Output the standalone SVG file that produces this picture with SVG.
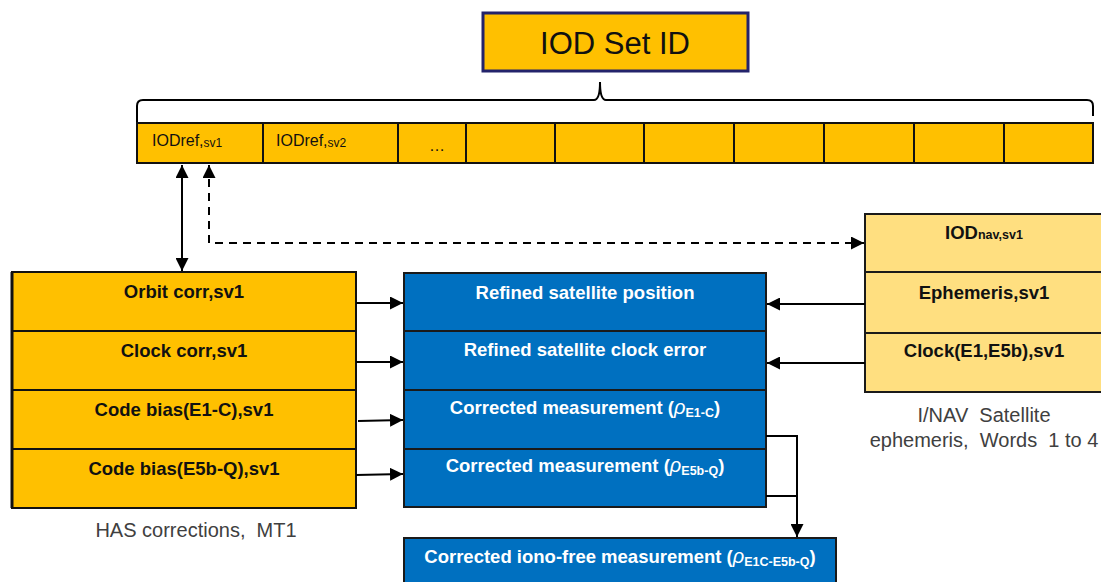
<svg xmlns="http://www.w3.org/2000/svg" width="1101" height="582" viewBox="0 0 1101 582">
<defs>
<style>
text{font-family:"Liberation Sans",Arial,sans-serif}
.cell{fill:#FFC000;stroke:#111;stroke-width:2}
.has{fill:#FFC000;stroke:#111;stroke-width:2}
.blue{fill:#0070C0;stroke:#1a1a1a;stroke-width:2}
.nav{fill:#FFDF80;stroke:#1a1a1a;stroke-width:2}
.bk{font-weight:bold;font-size:18.5px;fill:#111;text-anchor:middle}
.wt{font-weight:bold;font-size:18.5px;fill:#fff;text-anchor:middle}
.cap{font-size:20px;fill:#404040;text-anchor:middle}
.ref{font-size:16px;fill:#111}
.ln{fill:none;stroke:#000;stroke-width:2}
</style>
<marker id="ah" viewBox="0 0 10 10" refX="10" refY="5" markerWidth="6.5" markerHeight="6.5" orient="auto-start-reverse" markerUnits="strokeWidth">
<path d="M0,0 L10,5 L0,10 z" fill="#000"/>
</marker>
</defs>
<rect width="1101" height="582" fill="#fff"/>

<g id="iod-set-id">
<rect x="483" y="13" width="265" height="58" fill="#FFC000" stroke="#23236b" stroke-width="3"/>
<text x="615" y="54" font-size="31" fill="#111" text-anchor="middle">IOD Set ID</text>
</g>

<g id="brace">
<path class="ln" stroke-width="1.5" d="M137,122 V106 Q137,100 143,100 H594 Q600,100 600,82 Q600,100 606,100 H1087 Q1093,100 1093,106 V116"/>
</g>

<g id="iodref-row">
<rect class="cell" x="137" y="123" width="126" height="40"/>
<rect class="cell" x="263" y="123" width="135" height="40"/>
<rect class="cell" x="398" y="123" width="68" height="40"/>
<rect class="cell" x="466" y="123" width="89" height="40"/>
<rect class="cell" x="555" y="123" width="89" height="40"/>
<rect class="cell" x="644" y="123" width="90" height="40"/>
<rect class="cell" x="734" y="123" width="90" height="40"/>
<rect class="cell" x="824" y="123" width="90" height="40"/>
<rect class="cell" x="914" y="123" width="90" height="40"/>
<rect class="cell" x="1004" y="123" width="89" height="40"/>
<text class="ref" x="152" y="146">IODref,<tspan font-size="12" dy="1">sv1</tspan></text>
<text class="ref" x="276" y="146">IODref,<tspan font-size="12" dy="1">sv2</tspan></text>
<text class="ref" x="429" y="151" font-size="13" fill="#555">…</text>
</g>

<g id="has-corrections">
<rect class="has" x="12" y="272" width="344" height="59"/>
<rect class="has" x="12" y="331" width="344" height="59"/>
<rect class="has" x="12" y="390" width="344" height="59"/>
<rect class="has" x="12" y="449" width="344" height="59"/>
<line x1="12" y1="272" x2="12" y2="508" stroke="#111" stroke-width="3"/>
<text class="bk" x="184" y="298">Orbit corr,sv1</text>
<text class="bk" x="184" y="357">Clock corr,sv1</text>
<text class="bk" x="184" y="416">Code bias(E1-C),sv1</text>
<text class="bk" x="184" y="475">Code bias(E5b-Q),sv1</text>
<text class="cap" x="196" y="537" xml:space="preserve">HAS corrections,  MT1</text>
</g>

<g id="refined">
<rect class="blue" x="404" y="273" width="362" height="58"/>
<rect class="blue" x="404" y="331" width="362" height="59"/>
<rect class="blue" x="404" y="390" width="362" height="59"/>
<rect class="blue" x="404" y="449" width="362" height="58"/>
<text class="wt" x="585" y="299">Refined satellite position</text>
<text class="wt" x="585" y="356">Refined satellite clock error</text>
<text class="wt" x="585" y="414">Corrected measurement (<tspan font-style="italic" font-weight="normal" font-size="20">ρ</tspan><tspan font-size="12.5" dy="3">E1-C</tspan><tspan dy="-3">)</tspan></text>
<text class="wt" x="585" y="472">Corrected measurement (<tspan font-style="italic" font-weight="normal" font-size="20">ρ</tspan><tspan font-size="12.5" dy="3">E5b-Q</tspan><tspan dy="-3">)</tspan></text>
</g>

<g id="iono-free">
<rect class="blue" x="404" y="538" width="432" height="52"/>
<text class="wt" x="620" y="563">Corrected iono-free measurement (<tspan font-style="italic" font-weight="normal" font-size="20">ρ</tspan><tspan font-size="12.5" dy="3">E1C-E5b-Q</tspan><tspan dy="-3">)</tspan></text>
</g>

<g id="inav-ephemeris">
<rect class="nav" x="865" y="214" width="238" height="58"/>
<rect class="nav" x="865" y="272" width="238" height="61"/>
<rect class="nav" x="865" y="333" width="238" height="59"/>
<text class="bk" x="984" y="239">IOD<tspan font-size="12.5">nav,sv1</tspan></text>
<text class="bk" x="984" y="299">Ephemeris,sv1</text>
<text class="bk" x="984" y="357">Clock(E1,E5b),sv1</text>
<text class="cap" x="984" y="422" xml:space="preserve">I/NAV  Satellite</text>
<text class="cap" x="984" y="447" xml:space="preserve">ephemeris,  Words  1 to 4</text>
</g>

<g id="connectors">
<line class="ln" x1="182" y1="165" x2="182" y2="271" marker-start="url(#ah)" marker-end="url(#ah)"/>
<path class="ln" stroke-dasharray="8,6" d="M209,165 V243 H864" marker-start="url(#ah)" marker-end="url(#ah)"/>
<line class="ln" x1="356" y1="303" x2="403" y2="303" marker-end="url(#ah)"/>
<line class="ln" x1="356" y1="362" x2="403" y2="362" marker-end="url(#ah)"/>
<line class="ln" x1="358" y1="421" x2="403" y2="420" marker-end="url(#ah)"/>
<line class="ln" x1="356" y1="475" x2="403" y2="474" marker-end="url(#ah)"/>
<line class="ln" x1="865" y1="304" x2="767" y2="304" marker-end="url(#ah)"/>
<line class="ln" x1="865" y1="363" x2="767" y2="363" marker-end="url(#ah)"/>
<path class="ln" d="M766,436 H797 V537" marker-end="url(#ah)"/>
<path class="ln" d="M766,496 H797"/>
</g>
</svg>
